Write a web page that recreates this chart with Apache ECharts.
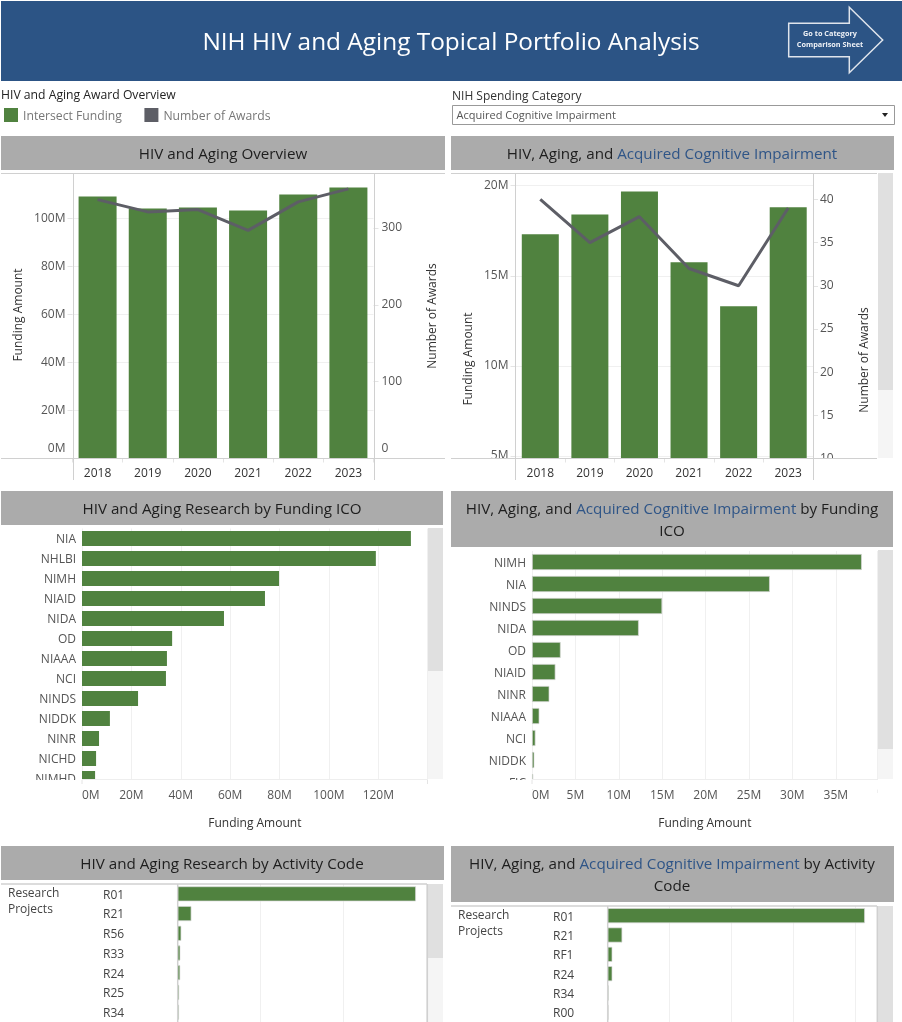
<!DOCTYPE html>
<html><head><meta charset="utf-8">
<style>html,body{margin:0;padding:0;background:#fff;overflow:hidden}#c{width:902px;height:1022px}</style>
<script src="https://cdn.jsdelivr.net/npm/echarts@6/dist/echarts.min.js"></script>
</head><body><div id="c"></div>
<script>
const years=['2018','2019','2020','2021','2022','2023'];
const overviewFunding=[109.2,104.2,104.6,103.3,110,112.9];
const overviewAwards=[337,321,324,297,334,351];
const categoryFunding=[17.3,18.4,19.68,15.75,13.3,18.8];
const categoryAwards=[40,35,38,32,30,39];
const icoAll=['NIA','NHLBI','NIMH','NIAID','NIDA','OD','NIAAA','NCI','NINDS','NIDDK','NINR','NICHD','NIMHD'];
const icoAllValues=[133.2,119,79.8,74.1,57.5,36.5,34.4,34,22.7,11.3,6.9,5.7,5.3];
const icoCat=['NIMH','NIA','NINDS','NIDA','OD','NIAID','NINR','NIAAA','NCI','NIDDK','FIC'];
const icoCatValues=[38,27.4,15,12.3,3.3,2.7,2.0,0.85,0.4,0.27,0.15];
const actAll=['R01','R21','R56','R33','R24','R25','R34'];
const actAllValues=[574,33,8.7,6.3,6,3.5,3];
const actCat=['R01','R21','RF1','R24','R34','R00'];
const actCatValues=[83,4.7,1.5,1.5,0.3,0.25];

const FONT='"Open Sans"';
const GREEN='#50823f', LINE='#5d5e66', HEAD='#ababab', FRAME='#d0d0d0', GRIDC='#f0f0f0', BLUE='#2f5587';
const M=v=>v+'M';
const t={fontFamily:FONT,fontSize:12,color:'#555'};
const HS=15.2;

function head(text,cx,cy){
  return {text,left:cx,top:cy,textAlign:'center',textVerticalAlign:'middle',padding:0,
    textStyle:{fontFamily:FONT,fontSize:HS,fontWeight:'normal',color:'#1e1e1e',lineHeight:22,
      rich:{k:{fontFamily:FONT,fontSize:HS,color:'#1e1e1e',lineHeight:22},b:{fontFamily:FONT,fontSize:HS,color:BLUE,lineHeight:22}}}};
}
const titles=[
  {text:'NIH HIV and Aging Topical Portfolio Analysis',left:451,top:43,textAlign:'center',textVerticalAlign:'middle',padding:0,
   textStyle:{fontFamily:FONT,fontSize:24.4,fontWeight:'normal',color:'#fff'}},
  head('HIV and Aging Overview',223,154.5),
  head('{k|HIV, Aging, and }{b|Acquired Cognitive Impairment}',672,154.5),
  head('HIV and Aging Research by Funding ICO',222,509.5),
  head('{k|HIV, Aging, and }{b|Acquired Cognitive Impairment}{k| by Funding}\n{k|ICO}',672,520.5),
  head('HIV and Aging Research by Activity Code',222,864.5),
  head('{k|HIV, Aging, and }{b|Acquired Cognitive Impairment}{k| by Activity}\n{k|Code}',672,875.5)
];

const grids=[
  {left:72.5,top:173.5,width:301,height:285},
  {left:515.5,top:173.5,width:297.5,height:285},
  {left:82,top:528.5,width:345.7,height:260},
  {left:532,top:551,width:345.7,height:242},
  {left:177.7,top:884,width:249.6,height:140},
  {left:607.7,top:906,width:269.6,height:120}
];

function yearAxis(i){return {type:'category',gridIndex:i,data:years,axisLine:{show:false},
  axisTick:{show:true,length:4,lineStyle:{color:'#e4e4e4'}},axisLabel:Object.assign({},t,{color:'#333',margin:9})};}
function zeroShift(fmt){return v=>v===0?'{z|'+fmt(v)+'}':fmt(v);}
const richZ={z:{fontFamily:FONT,fontSize:12,color:'#555',padding:[0,0,20,0]}};
function valY(i,o,pos,fmt,margin){return Object.assign({type:'value',gridIndex:i,position:pos,
  axisLine:{show:false},axisTick:{show:true,length:5,lineStyle:{color:'#e4e4e4'}},
  axisLabel:Object.assign({},t,{margin:margin,showMaxLabel:false,formatter:fmt,rich:richZ}),
  splitLine:{show:pos==='left',lineStyle:{color:GRIDC}}},o);}
function valX(i,o,showLab,margin,gap){return Object.assign({type:'value',gridIndex:i,min:0,
  axisLine:{show:false},axisTick:{show:false},splitLine:{show:true,lineStyle:{color:GRIDC}},
  axisLabel:Object.assign({},t,{show:showLab,margin:margin,formatter:M,alignMinLabel:'left',showMaxLabel:false,backgroundColor:'#fff'}),
  name:showLab?'Funding Amount':'',nameLocation:'middle',nameGap:gap,
  nameTextStyle:{fontFamily:FONT,fontSize:12,color:'#333'}},o);}
function catY(i,data,margin,align){const col=align?'#444':'#555';return {type:'category',gridIndex:i,data,inverse:true,
  axisLine:{show:false},axisTick:{show:false},
  axisLabel:Object.assign({},t,{margin,align:align||'right',color:col,formatter:'{r|{value}}',
    rich:{r:{fontFamily:FONT,fontSize:12,color:col,padding:[3,0,0,0]}}})};}

const xAxis=[yearAxis(0),yearAxis(1),
  valX(2,{max:140,interval:20},true,1,29.5),
  valX(3,{max:39.83,interval:5},true,-3.5,24.5),
  valX(4,{max:601.4,interval:200},false,0,0),
  valX(5,{max:87,interval:20},false,0,0)];
const yAxis=[
  valY(0,{min:0,max:118.75,interval:20},'left',zeroShift(M),7),
  valY(0,{min:0,max:371,interval:100},'right',zeroShift(String),8),
  valY(1,{min:4.85,max:20.68,axisTick:{show:true,length:5,lineStyle:{color:'#e4e4e4'},customValues:[5,10,15,20]}},'left',M,7),
  valY(1,{min:10,max:43,interval:5},'right',String,7),
  catY(2,icoAll,6),catY(3,icoCat,6),catY(4,actAll,74.7,'left'),catY(5,actCat,54.7,'left')
];
yAxis[2].axisLabel.customValues=[5,10,15,20];
yAxis[2].axisLabel.showMaxLabel=true;

const border={color:GREEN,borderColor:'#d8d8d8',borderWidth:0.7};
const series=[
  {name:'Intersect Funding',type:'bar',xAxisIndex:0,yAxisIndex:0,data:overviewFunding,barWidth:38,itemStyle:{color:GREEN}},
  {name:'Number of Awards',type:'line',xAxisIndex:0,yAxisIndex:1,data:overviewAwards,symbol:'none',lineStyle:{color:LINE,width:3},itemStyle:{color:LINE},z:5},
  {name:'Intersect Funding',type:'bar',xAxisIndex:1,yAxisIndex:2,data:categoryFunding,barWidth:37,itemStyle:{color:GREEN}},
  {name:'Number of Awards',type:'line',xAxisIndex:1,yAxisIndex:3,data:categoryAwards,symbol:'none',lineStyle:{color:LINE,width:3},itemStyle:{color:LINE},z:5},
  {type:'bar',xAxisIndex:2,yAxisIndex:4,data:icoAllValues,barWidth:15,itemStyle:{color:GREEN}},
  {type:'bar',xAxisIndex:3,yAxisIndex:5,data:icoCatValues,barWidth:16,itemStyle:border},
  {type:'bar',xAxisIndex:4,yAxisIndex:6,data:actAllValues,barWidth:15,itemStyle:border},
  {type:'bar',xAxisIndex:5,yAxisIndex:7,data:actCatValues,barWidth:15,itemStyle:border}
];

const rect=(x,y,w,h,fill,z)=>({type:'rect',shape:{x,y,width:w,height:h},style:{fill},z:z||1,silent:true});
const ln=(x1,y1,x2,y2,c,z,w)=>({type:'line',shape:{x1,y1,x2,y2},style:{stroke:c||FRAME,lineWidth:w||1},z:z||110,silent:true});
const txt=(text,x,y,o)=>({type:'text',x,y,z:120,silent:true,rotation:(o&&o.rot)||0,
  style:Object.assign({text,fontFamily:FONT,fontSize:12,fill:'#333',align:'left',verticalAlign:'middle'},o&&o.s)});
const vert=Math.PI/2;
const graphicEls=[
  rect(1,1,901,80,'#2c5485'),
  rect(1,136,444,34,HEAD),rect(451,136,443,34,HEAD),
  rect(1,491,442,34,HEAD),rect(451,491,442,56,HEAD),
  rect(1,846,443,34,HEAD),rect(451,846,443,56,HEAD),
  {type:'polygon',shape:{points:[[788.7,23.3],[849.3,23.3],[849.3,7.3],[882.7,40],[849.3,72.7],[849.3,56.7],[788.7,56.7]]},
   style:{fill:'none',stroke:'#dfe4ec',lineWidth:1.5},z:2,silent:true},
  txt('Go to Category',830,34,{s:{align:'center',fontSize:7.3,fontWeight:'bold',fill:'#eef1f6'}}),
  txt('Comparison Sheet',830,44.5,{s:{align:'center',fontSize:7.3,fontWeight:'bold',fill:'#eef1f6'}}),
  txt('HIV and Aging Award Overview',1,95.5,{s:{fontSize:12.2,fill:'#222'}}),
  txt('NIH Spending Category',452,96.5,{s:{fontSize:12,fill:'#333'}}),
  {type:'rect',shape:{x:452.5,y:105.5,width:442,height:19},style:{fill:'#fff',stroke:'#999',lineWidth:1},z:1,silent:true},
  txt('Acquired Cognitive Impairment',456.5,115.5,{s:{fontSize:11,fill:'#555'}}),
  {type:'polygon',shape:{points:[[882,113],[888,113],[885,117]]},style:{fill:'#222'},z:2,silent:true},
  // scrollbars
  rect(878,173,15,217,'#e0e0e0'),rect(878,390,15,68,'#f5f5f5'),
  rect(428,528,15,143,'#e0e0e0'),rect(428,671,15,108,'#f5f5f5'),
  rect(878,550,15,199,'#e0e0e0'),rect(878,749,15,30,'#f5f5f5'),
  rect(428,884,15,74,'#e0e0e0'),rect(428,958,15,64,'#f5f5f5'),
  rect(878,906,15,116,'#e0e0e0'),
  // covers hiding clipped rows and labels
  rect(0,459,72,6,'#fff',100),rect(815,459,60,7,'#fff',100),rect(450,459,64,6,'#fff',100),
  rect(0,780,445,9.5,'#fff',100),rect(450,780,445,9.5,'#fff',100),
  // frames
  ln(1,173.5,445,173.5),ln(1,458.5,445,458.5),ln(73.5,173,73.5,480),ln(374.5,173,374.5,480),
  ln(451,173.5,877,173.5),ln(451,458.5,877,458.5),ln(515.5,173,515.5,480),ln(813.5,173,813.5,480),
  ln(82,779.5,427,779.5,'#eeeeee'),ln(532,779.5,878,779.5,'#eeeeee'),
  ln(82,780,82,784,'#e4e4e4'),ln(427.5,780,427.5,784,'#e4e4e4'),ln(532,780,532,784,'#e4e4e4'),
  ln(1,884,427,884,FRAME,110,1.5),ln(177.7,884,177.7,1022,FRAME,1,1.5),ln(427.3,884,427.3,1022,FRAME,110,1.5),
  ln(451,906,877,906,FRAME,110,1.5),ln(607.7,906,607.7,1022,FRAME,1,1.5),ln(877.3,906,877.3,1022,FRAME,110,1.5),
  // axis titles
  txt('Funding Amount',18.5,315,{rot:vert,s:{align:'center'}}),
  txt('Number of Awards',433,316,{rot:vert,s:{align:'center'}}),
  txt('Funding Amount',468.5,359,{rot:vert,s:{align:'center'}}),
  txt('Number of Awards',865,360,{rot:vert,s:{align:'center'}}),
  // row-header labels
  txt('Research',8,893.5,{s:{fontSize:12,fill:'#444'}}),txt('Projects',8,909.5,{s:{fontSize:12,fill:'#444'}}),
  txt('Research',458,915.5,{s:{fontSize:12,fill:'#444'}}),txt('Projects',458,931.5,{s:{fontSize:12,fill:'#444'}})
];

const chart=echarts.init(document.getElementById('c'),null,{renderer:'canvas'});
chart.setOption({
  animation:false,backgroundColor:'#fff',title:titles,
  legend:{left:4,top:108,itemWidth:14,itemHeight:14,itemGap:22.5,padding:0,icon:'rect',selectedMode:false,
    data:['Intersect Funding','Number of Awards'],formatter:n=>'{a|'+n+'}',
    textStyle:{fontFamily:FONT,fontSize:12.2,color:'#777',rich:{a:{fontFamily:FONT,fontSize:12.2,color:'#777',padding:[3,0,0,0]}}}},
  grid:grids,xAxis,yAxis,series,graphic:{elements:graphicEls}
});
</script></body></html>
